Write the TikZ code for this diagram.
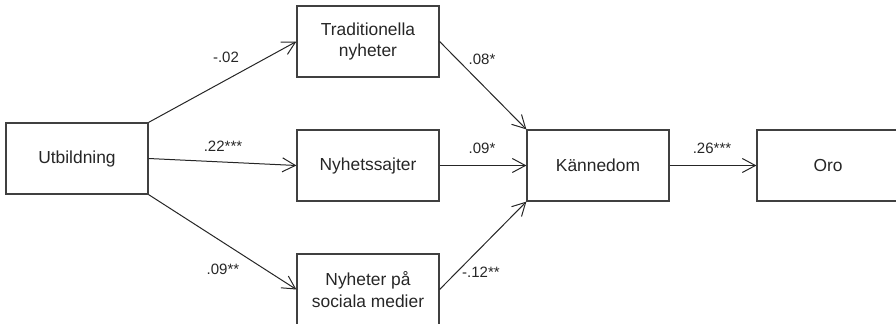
\documentclass[tikz,border=0pt]{standalone}
\usepackage{fontspec}
\setmainfont{Liberation Sans}
\usepackage{tikz}
\usetikzlibrary{arrows.meta}

\tikzset{
  box/.style={draw=black!75, line width=0.6pt, minimum width=71pt, minimum height=35.5pt,
    inner sep=0pt, align=center, font=\fontsize{8.7}{10.6}\selectfont, text=black!85},
  coef/.style={font=\fontsize{7.5}{9}\selectfont, text=black!85, inner sep=0pt},
  path/.style={draw=black!85, line width=0.5pt, -{Straight Barb[length=6.5pt,width=7pt]}}
}

\begin{document}
\begin{tikzpicture}[x=0.5pt,y=0.5pt]
   \useasboundingbox (0,0) rectangle (896,323);
   \clip (0,0) rectangle (896,323);

   \node[box] (utb) at (77,164.5) {Utbildning};
   \node[box] (trad) at (368,281.5) {Traditionella\\nyheter};
   \node[box] (sajt) at (368,157.5) {Nyhetssajter};
   \node[box] (soc) at (368,33.5) {Nyheter på\\sociala medier};
   \node[box] (kann) at (598,157.5) {Kännedom};
   \node[box] (oro) at (828,157.5) {Oro};

   \draw[path] (utb.north east) -- (trad.west);
   \draw[path] (utb.east) -- (sajt.west);
   \draw[path] (utb.south east) -- (soc.west);
   \draw[path] (trad.east) -- (kann.north west);
   \draw[path] (sajt.east) -- (kann.west);
   \draw[path] (soc.east) -- (kann.south west);
   \draw[path] (kann.east) -- (oro.west);

   \node[coef] (c1) at (226,266) {-.02};
   \node[coef] (c2) at (223,177) {.22***};
   \node[coef] (c3) at (223,54) {.09**};
   \node[coef] (c4) at (482,264) {.08*};
   \node[coef] (c5) at (482,175) {.09*};
   \node[coef] (c6) at (481,51) {-.12**};
   \node[coef] (c7) at (712,175) {.26***};
\end{tikzpicture}
\end{document}
